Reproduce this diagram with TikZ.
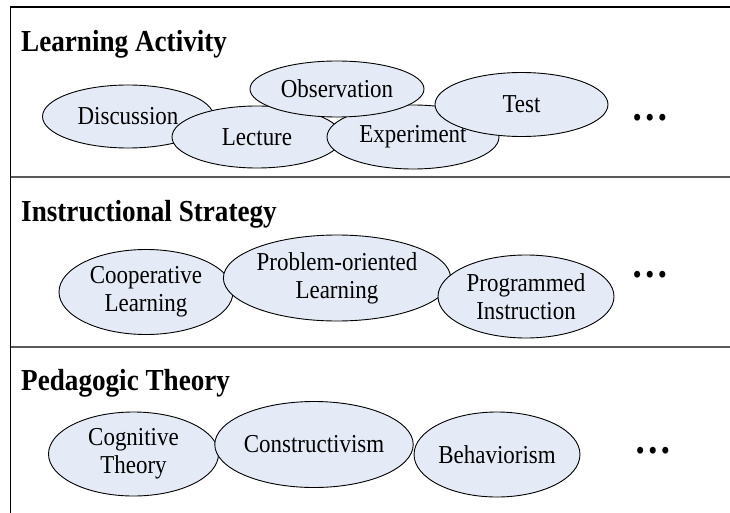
\documentclass[tikz,border=0pt]{standalone}
\usepackage{fontspec}
\setmainfont[FakeStretch=0.89]{Liberation Serif}
\usetikzlibrary{shapes.geometric}
\definecolor{ovalfill}{RGB}{229,235,246}
\definecolor{rulegray}{RGB}{90,90,90}
\tikzset{
  oval/.style={ellipse, draw=black, fill=ovalfill, line width=0.9pt, inner sep=0pt, align=center, font=\fontsize{25.8}{28}\selectfont},
  layer/.style={anchor=base west, inner sep=0pt, font=\fontsize{30.5}{32}\selectfont\bfseries},
  more/.style={inner sep=0pt, font=\fontsize{42}{42}\selectfont\bfseries}
}
\begin{document}
\begin{tikzpicture}[x=1pt, y=-1pt]
\useasboundingbox (0,0) rectangle (730,513);
% frame
\coordinate (tr) at (730,7);
\coordinate (tl) at (10.5,7);
\coordinate (bl) at (10.5,513);
\coordinate (s1l) at (10.5,177);
\coordinate (s1r) at (730,177);
\coordinate (s2l) at (10.5,346.5);
\coordinate (s2r) at (730,346.5);
\draw[line width=1.3pt] (tr) -- (tl) -- (bl);
\draw[rulegray, line width=2pt] (s1l) -- (s1r);
\draw[rulegray, line width=2pt] (s2l) -- (s2r);
% learning activity
\node[layer] (la) at (21,52) {Learning Activity};
\node[oval, minimum width=171pt, minimum height=63pt] (disc) at (128,116.5) {Discussion};
\node[oval, minimum width=170pt, minimum height=62pt] (lect) at (257,137) {Lecture};
\node[oval, minimum width=172pt, minimum height=64pt] (expe) at (413,137) {Experiment};
\node[oval, minimum width=174pt, minimum height=56pt] (obse) at (337,89) {Observation};
\node[oval, minimum width=173pt, minimum height=64pt] (test) at (521.5,104.5) {Test};
\node[more] (la-more) at (650,118) {…};
% instructional strategy
\node[layer] (is) at (21,221) {Instructional Strategy};
\node[oval, minimum width=174pt, minimum height=85pt] (coop) at (146,292) {Cooperative\\Learning};
\node[oval, minimum width=202pt, minimum height=86pt] (prob) at (337,278) {Problem-oriented\\Learning};
\node[oval, minimum width=176pt, minimum height=83pt] (prog) at (526,296.5) {Programmed\\Instruction};
\node[more] (is-more) at (650,275) {…};
% pedagogic theory
\node[layer] (pt) at (21,390) {Pedagogic Theory};
\node[oval, minimum width=170pt, minimum height=84pt] (cogn) at (133.5,454) {Cognitive\\Theory};
\node[oval, minimum width=190pt, minimum height=86pt] (cons) at (314,444.5) {Constructivism};
\node[oval, minimum width=164pt, minimum height=85pt] (beha) at (497,454.5) {Behaviorism};
\node[more] (pt-more) at (653,451) {…};
\end{tikzpicture}
\end{document}
